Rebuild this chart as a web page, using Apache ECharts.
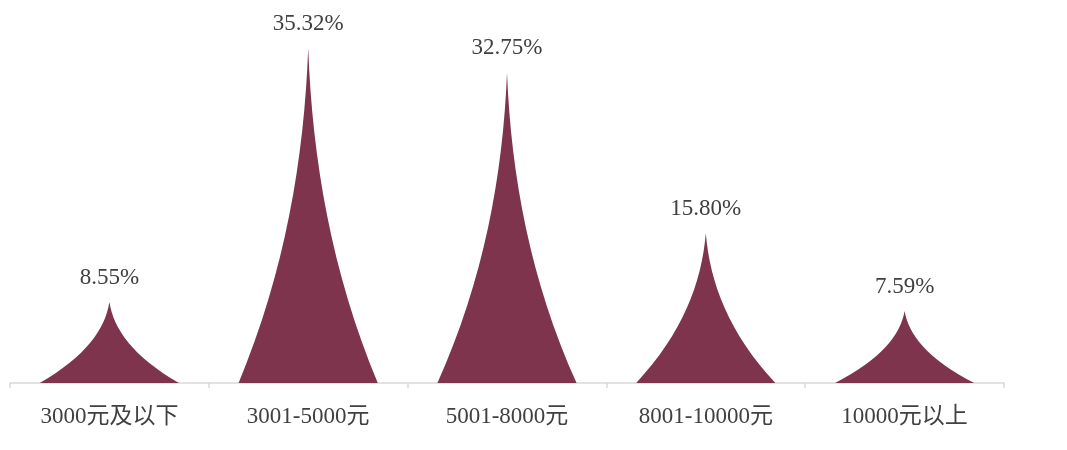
<!DOCTYPE html>
<html><head><meta charset="utf-8">
<script src="https://cdn.jsdelivr.net/npm/echarts@6/dist/echarts.min.js"></script>
<style>html,body{margin:0;padding:0;background:#fff}#c{width:1067px;height:450px}</style>
</head><body><div id="c"></div>
<script>
var categories = ['3000元及以下', '3001-5000元', '5001-8000元', '8001-10000元', '10000元以上'];
var values = [8.55, 35.32, 32.75, 15.80, 7.59];
var labels = ['8.55%', '35.32%', '32.75%', '15.80%', '7.59%'];

var font = '"Liberation Serif", "Times New Roman", "Noto Sans CJK SC", serif';
var chart = echarts.init(document.getElementById('c'));
chart.setOption({
  animation: false,
  grid: {left: 10, right: 63, top: 4, bottom: 67, containLabel: false},
  xAxis: {
    type: 'category', data: categories,
    axisLine: {lineStyle: {color: '#d9d9d9', width: 1.5}},
    axisTick: {show: true, length: 5, lineStyle: {color: '#d9d9d9', width: 1.5}},
    axisLabel: {color: '#404040', fontSize: 23, fontFamily: font, margin: 22}
  },
  yAxis: {
    type: 'value', min: 0, max: 40, show: false, splitLine: {show: false}
  },
  series: [{
    type: 'pictorialBar',
    symbol: 'path://M0,10 L10,10 C6.67,6.67 5.3,3.33 5,0 C4.7,3.33 3.33,6.67 0,10 z',
    barCategoryGap: '30%',
    itemStyle: {color: '#7f344d'},
    label: {
      show: true, position: 'top', distance: 13, color: '#404040', fontSize: 23, fontFamily: font,
      formatter: function (p) { return labels[p.dataIndex]; }
    },
    data: values
  }]
});
</script></body></html>
